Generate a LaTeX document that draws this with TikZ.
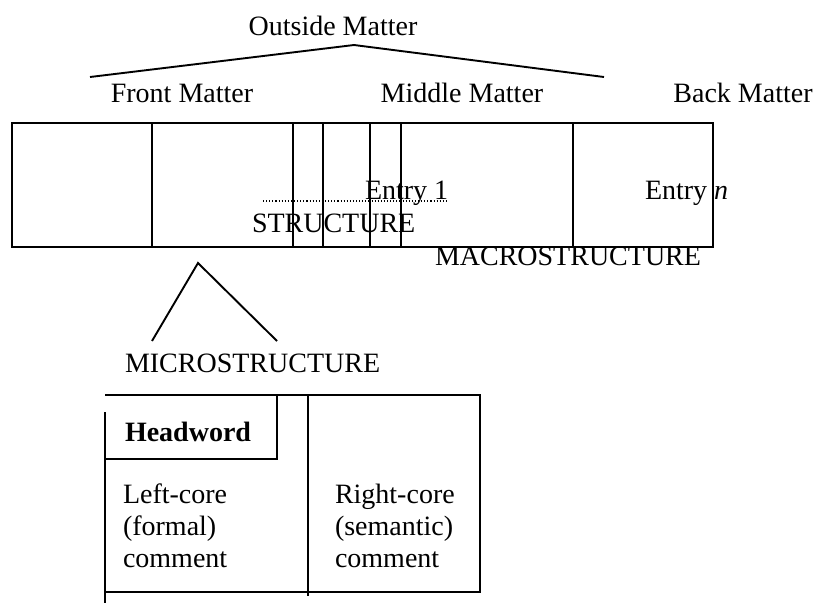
\documentclass[tikz,border=0pt]{standalone}
\usepackage{fontspec}
\setmainfont{Liberation Serif}
\begin{document}
\begin{tikzpicture}[x=1pt,y=-1pt,
  txt/.style={inner sep=0pt,outer sep=0pt,font=\fontsize{28}{32}\selectfont,anchor=base west},
  ctxt/.style={inner sep=0pt,outer sep=0pt,font=\fontsize{28}{32}\selectfont,anchor=base},
  ln/.style={line width=1.9pt,line cap=butt},
  dots/.style={dotted,line width=1.1pt}]
\useasboundingbox (0,0) rectangle (817,603);
% top labels
\node[ctxt] (outside) at (333,35) {Outside Matter};
\node[ctxt] (front) at (182,102) {Front Matter};
\node[ctxt] (middle) at (462,102) {Middle Matter};
\node[ctxt] (back) at (743,102) {Back Matter};
\coordinate (oL) at (90,77);
\coordinate (oP) at (354,45);
\coordinate (oR) at (604,77);
\draw[ln] (oL) -- (oP) -- (oR);
% main box
\coordinate (bTL) at (12,123);
\coordinate (bBR) at (713,247);
\draw[ln] (bTL) rectangle (bBR);
\foreach \xx in {152,293,323,370,401,573}{
  \draw[ln] (\xx,123) -- (\xx,247);
}
% texts in box
\node[txt] (entry1) at (365,199) {Entry 1};
\coordinate (d1) at (263,201);
\coordinate (d2) at (448,201);
\draw[dots] (d1) -- (d2);
\node[txt] (structure) at (252,232) {STRUCTURE};
\node[txt] (entryn) at (645,199) {Entry \textit{n}};
\node[txt] (macro) at (435,265) {MACROSTRUCTURE};
% micro triangle
\coordinate (mL) at (152,341);
\coordinate (mP) at (198,263);
\coordinate (mR) at (277,341);
\draw[ln] (mL) -- (mP) -- (mR);
\node[txt] (micro) at (125,372) {MICROSTRUCTURE};
% lower table
\coordinate (tTL) at (105,395);
\coordinate (tTR) at (480,395);
\coordinate (tBR) at (480,592);
\coordinate (tBL) at (105,592);
\draw[ln] (tTL) -- (tTR) -- (tBR) -- (tBL);
\draw[ln] (105,412) -- (105,603);
\draw[ln] (308,395) -- (308,596);
\draw[ln] (277,395) -- (277,459) -- (105,459);
\node[txt,font=\fontsize{28}{32}\selectfont\bfseries] (head) at (125,441) {Headword};
\node[txt] (l1) at (123,503) {Left-core};
\node[txt] (l2) at (123,535) {(formal)};
\node[txt] (l3) at (123,567) {comment};
\node[txt] (r1) at (335,503) {Right-core};
\node[txt] (r2) at (335,535) {(semantic)};
\node[txt] (r3) at (335,567) {comment};
\end{tikzpicture}
\end{document}
